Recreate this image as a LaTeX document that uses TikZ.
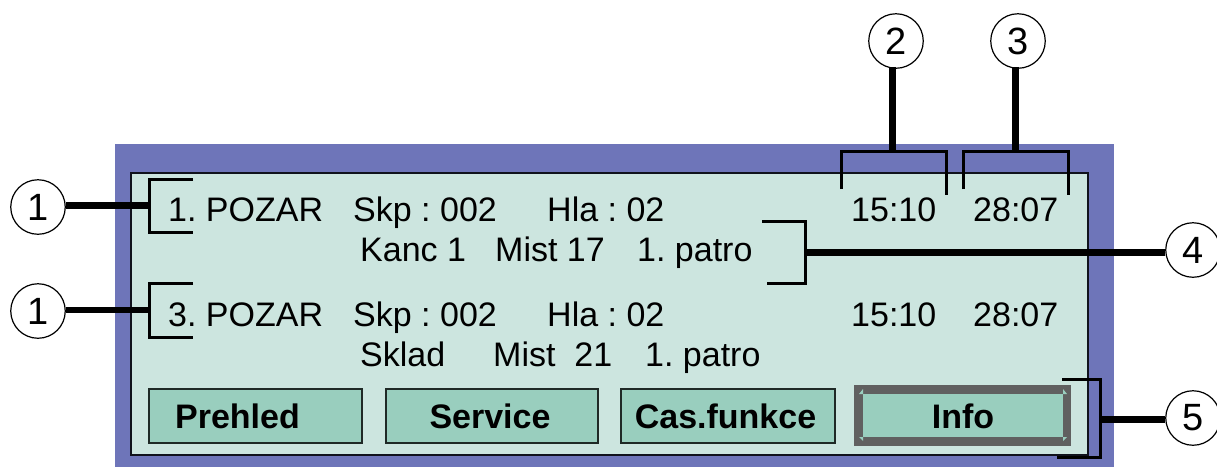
\documentclass[tikz,border=0pt]{standalone}
\usepackage{fontspec}
\setmainfont{Liberation Sans}
\frenchspacing
\definecolor{outerblue}{HTML}{6E75B9}
\definecolor{panelgreen}{HTML}{CCE5DF}
\definecolor{btngreen}{HTML}{99CEBE}
\definecolor{btngray}{HTML}{606060}
\tikzset{
  callout/.style={circle,draw=black,line width=1.2pt,fill=white,minimum size=54.5pt,inner sep=0pt,font=\fontsize{38}{40}\selectfont},
  bracket/.style={draw=black,line width=3pt,miter limit=10},
  leader/.style={draw=black,line width=7pt},
  leaderthin/.style={draw=black,line width=5.5pt},
  disp/.style={anchor=base west,inner sep=0pt,font=\fontsize{34}{40}\selectfont},
  btn/.style={draw=black!80!btngreen,line width=1.2pt,fill=btngreen,inner sep=0pt},
  btntext/.style={anchor=base,inner sep=0pt,font=\fontsize{34}{38}\bfseries\selectfont},
}
\begin{document}
\begin{tikzpicture}[x=1pt,y=-1pt]
\useasboundingbox (0,0) rectangle (1217,467);
% panels
\fill[outerblue] (115,144) rectangle (1114,467);
\draw[draw=black!85!outerblue,line width=1.6pt,fill=panelgreen] (131,173) rectangle (1088,455);
% buttons
\node[btn,minimum width=213pt,minimum height=54pt] (prehled) at (255.5,416) {};
\node[btn,minimum width=212pt,minimum height=54pt] (service) at (492,416) {};
\node[btn,minimum width=214pt,minimum height=54pt] (casf) at (728,416) {};
\fill[btngray] (854,385) rectangle (1071,446);
\fill[btngreen] (863,394) rectangle (1063,437);
\fill[btngreen] (863,389) -- (863,394) -- (859,394) -- cycle;
\fill[btngreen] (1063,389) -- (1063,394) -- (1067,394) -- cycle;
\fill[btngreen] (863,441) -- (863,437) -- (859,437) -- cycle;
\fill[btngreen] (1063,441) -- (1063,437) -- (1067,437) -- cycle;
% button labels
\node[btntext] (tp) at (237.5,428) {Prehled};
\node[btntext] (ts) at (490,428) {Service};
\node[btntext] (tc) at (725.5,428) {Cas.funkce};
\node[btntext] (ti) at (963,428) {Info};
% display text
\node[disp] (a1) at (168,221) {1. POZAR};
\node[disp] (a2) at (353,221) {Skp : 002};
\node[disp] (a3) at (547,221) {Hla : 02};
\node[disp] (a4) at (851,221) {15:10};
\node[disp] (a5) at (973,221) {28:07};
\node[disp] (b1) at (360,261) {Kanc 1};
\node[disp] (b2) at (495,261) {Mist 17};
\node[disp] (b3) at (637,261) {1. patro};
\node[disp] (c1) at (168,326) {3. POZAR};
\node[disp] (c2) at (353,326) {Skp : 002};
\node[disp] (c3) at (547,326) {Hla : 02};
\node[disp] (c4) at (851,326) {15:10};
\node[disp] (c5) at (973,326) {28:07};
\node[disp] (d1) at (360,366) {Sklad};
\node[disp] (d2) at (493,366) {Mist\ \ 21};
\node[disp] (d3) at (645,366) {1. patro};
% brackets
\draw[bracket] (193,179) -- (149,179) -- (149,232) -- (193,232);
\draw[bracket] (193,283) -- (149,283) -- (149,337) -- (193,337);
\draw[bracket] (841,189) -- (841,151) -- (946,151) -- (946,195);
\draw[bracket] (963,189) -- (963,151) -- (1068,151) -- (1068,195);
\draw[bracket] (762,221) -- (805,221) -- (805,283) -- (767,283);
\draw[bracket] (1062,379) -- (1100,379) -- (1100,457) -- (1057,457);
% bracket attachment points
\coordinate (h1) at (149,205);
\coordinate (h2) at (149,310);
\coordinate (h3) at (892,151);
\coordinate (h4) at (1015,151);
\coordinate (h5) at (805,252);
\coordinate (h6) at (1100,419);
% callouts
\node[callout] (n1) at (38,207) {1};
\node[callout] (n2) at (38,311) {1};
\node[callout] (n3) at (896,41) {2};
\node[callout] (n4) at (1018,41) {3};
\node[callout] (n5) at (1193,250) {4};
\node[callout] (n6) at (1193,418) {5};
% leaders
\draw[leader] (n1.east |- h1) -- (h1);
\draw[leaderthin] (n2.east |- h2) -- (h2);
\draw[leader] ([yshift=2pt]h3 |- n3.south) -- (h3);
\draw[leader] ([yshift=2pt]h4 |- n4.south) -- (h4);
\draw[leader] (n5.west |- h5) -- (h5);
\draw[leader] (n6.west |- h6) -- (h6);
\end{tikzpicture}
\end{document}
